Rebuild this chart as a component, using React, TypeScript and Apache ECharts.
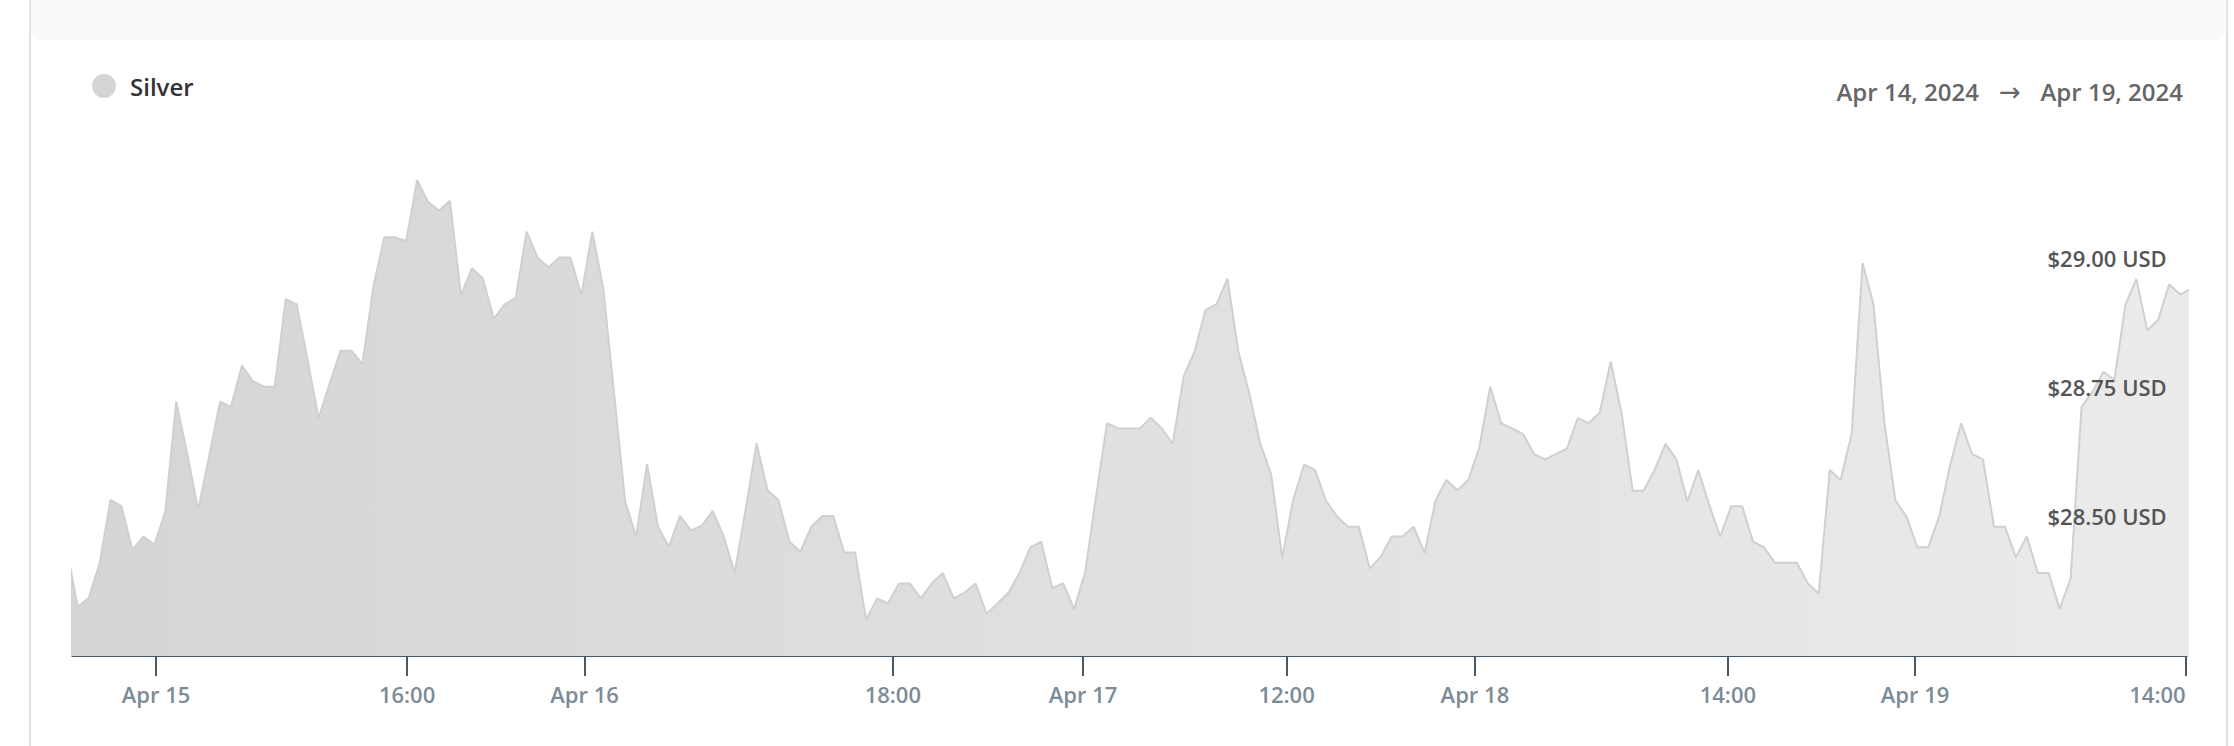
import React, { useEffect, useRef } from "react";
import * as echarts from "echarts";

// Silver spot price samples (USD), evenly spaced samples across Apr 14 – Apr 19, 2024
const silverPrices: number[] = [
  28.437, 28.324, 28.34, 28.408, 28.531, 28.519, 28.434, 28.46, 28.444, 28.508,
  28.722, 28.622, 28.512, 28.615, 28.722, 28.712, 28.792, 28.762, 28.751, 28.751,
  28.921, 28.911, 28.803, 28.69, 28.756, 28.821, 28.821, 28.795, 28.945, 29.041,
  29.041, 29.034, 29.152, 29.11, 29.093, 29.112, 28.929, 28.981, 28.961, 28.883,
  28.911, 28.923, 29.052, 29.002, 28.983, 29.002, 29.002, 28.929, 29.052, 28.942,
  28.735, 28.528, 28.46, 28.601, 28.479, 28.44, 28.5, 28.472, 28.481, 28.51,
  28.46, 28.39, 28.512, 28.641, 28.55, 28.531, 28.45, 28.431, 28.479, 28.5,
  28.5, 28.429, 28.429, 28.298, 28.34, 28.33, 28.369, 28.369, 28.34, 28.369,
  28.389, 28.34, 28.351, 28.369, 28.31, 28.33, 28.351, 28.389, 28.439, 28.45,
  28.36, 28.369, 28.319, 28.39, 28.538, 28.68, 28.67, 28.67, 28.67, 28.691,
  28.67, 28.64, 28.771, 28.82, 28.9, 28.911, 28.961, 28.819, 28.738, 28.64,
  28.58, 28.418, 28.531, 28.6, 28.589, 28.53, 28.499, 28.479, 28.479, 28.398,
  28.421, 28.46, 28.46, 28.479, 28.428, 28.53, 28.57, 28.55, 28.57, 28.633,
  28.751, 28.68, 28.67, 28.659, 28.62, 28.61, 28.62, 28.631, 28.69, 28.68,
  28.701, 28.8, 28.699, 28.549, 28.549, 28.589, 28.64, 28.61, 28.528, 28.589,
  28.521, 28.46, 28.519, 28.519, 28.45, 28.439, 28.409, 28.409, 28.409, 28.369,
  28.349, 28.589, 28.57, 28.659, 28.991, 28.91, 28.68, 28.53, 28.499, 28.439,
  28.439, 28.499, 28.599, 28.68, 28.62, 28.61, 28.479, 28.479, 28.42, 28.46,
  28.389, 28.389, 28.319, 28.379, 28.712, 28.741, 28.78, 28.764, 28.91, 28.96,
  28.86, 28.881, 28.95, 28.93, 28.941,
];

// x tick positions, in sample-index units, and their labels
const xTickPositions: number[] = [8.16, 31.08, 47.29, 75.44, 92.81, 111.4, 128.6, 151.7, 168.8, 193.5];
const xTickLabels: string[] = ["Apr 15", "16:00", "Apr 16", "18:00", "Apr 17", "12:00", "Apr 18", "14:00", "Apr 19", "14:00"];

// y tick values
const yTickValues: number[] = [28.5, 28.75, 29.0];

const legendName = "Silver";
const rangeStart = "Apr 14, 2024";
const rangeEnd = "Apr 19, 2024";

const FONT = "'Open Sans', 'Noto Sans', sans-serif";

export default function App() {
  const ref = useRef<HTMLDivElement>(null);

  useEffect(() => {
    if (!ref.current) return;
    const chart = echarts.init(ref.current, undefined, { renderer: "svg" });
    const seriesData = silverPrices.map((v, i) => [i, v]);

    chart.setOption({
      animation: false,
      backgroundColor: "#ffffff",
      grid: {
        left: 72.3,
        right: 47.3,
        top: 129.75,
        bottom: 90,
        containLabel: false,
        outerBoundsMode: "none",
      },
      xAxis: {
        type: "value",
        min: 0.51,
        max: 193.6,
        axisLine: { show: true, onZero: false, lineStyle: { color: "#4b5964", width: 2 } },
        axisTick: {
          show: true,
          customValues: xTickPositions,
          length: 20,
          lineStyle: { color: "#4b5964", width: 2 },
        },
        axisLabel: {
          customValues: xTickPositions,
          formatter: (v: number) => {
            let best = 0;
            let bd = Infinity;
            xTickPositions.forEach((p, i) => {
              const d = Math.abs(p - v);
              if (d < bd) {
                bd = d;
                best = i;
              }
            });
            return xTickLabels[best];
          },
          margin: 27,
          color: "#7d8b97",
          fontSize: 22,
          fontWeight: 600,
          fontFamily: FONT,
          alignMaxLabel: "right",
        },
        splitLine: { show: false },
      },
      yAxis: {
        type: "value",
        position: "right",
        min: 28.228,
        max: 29.25,
        z: 10,
        axisLine: { show: false },
        axisTick: { show: false },
        splitLine: { show: false },
        axisLabel: {
          inside: true,
          margin: 20,
          customValues: yTickValues,
          formatter: (v: number) => `$${v.toFixed(2)} USD`,
          color: "#555555",
          fontSize: 22,
          fontWeight: 600,
          fontFamily: FONT,
        },
      },
      series: [
        {
          name: legendName,
          type: "line",
          data: seriesData,
          showSymbol: false,
          clip: true,
          lineStyle: { color: "#d0d0d0", width: 2 },
          areaStyle: {
            opacity: 1,
            color: new echarts.graphic.LinearGradient(0, 0, 1, 0, [
              { offset: 0, color: "#d5d5d5" },
              { offset: 1, color: "#ebebeb" },
            ]),
          },
          z: 2,
        },
      ],
      graphic: [
        {
          type: "rect",
          z: -10,
          shape: { x: 31, y: 0, width: 2194, height: 40, r: [0, 0, 10, 10] },
          style: { fill: "#f9f9f9" },
          silent: true,
        },
        {
          type: "line",
          shape: { x1: 30, y1: 0, x2: 30, y2: 746 },
          style: { stroke: "#e2e2e2", lineWidth: 2 },
          silent: true,
        },
        {
          type: "line",
          shape: { x1: 2227, y1: 0, x2: 2227, y2: 746 },
          style: { stroke: "#e2e2e2", lineWidth: 2 },
          silent: true,
        },
        {
          type: "circle",
          shape: { cx: 104, cy: 86, r: 12 },
          style: { fill: "#d4d4d4" },
          silent: true,
        },
        {
          type: "text",
          x: 130,
          y: 86,
          style: {
            text: legendName,
            fill: "#333333",
            font: `600 24px ${FONT}`,
            verticalAlign: "middle",
            align: "left",
          },
          silent: true,
        },
        {
          type: "text",
          x: 1979,
          y: 91,
          style: {
            text: rangeStart,
            fill: "#666666",
            font: `600 24px ${FONT}`,
            verticalAlign: "middle",
            align: "right",
          },
          silent: true,
        },
        {
          type: "text",
          x: 2010,
          y: 92,
          style: {
            text: "→",
            fill: "#666666",
            font: `400 26px 'DejaVu Sans', sans-serif`,
            verticalAlign: "middle",
            align: "center",
          },
          silent: true,
        },
        {
          type: "text",
          x: 2183,
          y: 91,
          style: {
            text: rangeEnd,
            fill: "#666666",
            font: `600 24px ${FONT}`,
            verticalAlign: "middle",
            align: "right",
          },
          silent: true,
        },
      ],
    });

    return () => {
      chart.dispose();
    };
  }, []);

  return (
    <div
      ref={ref}
      style={{
        position: "fixed",
        left: 0,
        top: 0,
        width: 2234,
        height: 746,
        background: "#ffffff",
      }}
    />
  );
}
